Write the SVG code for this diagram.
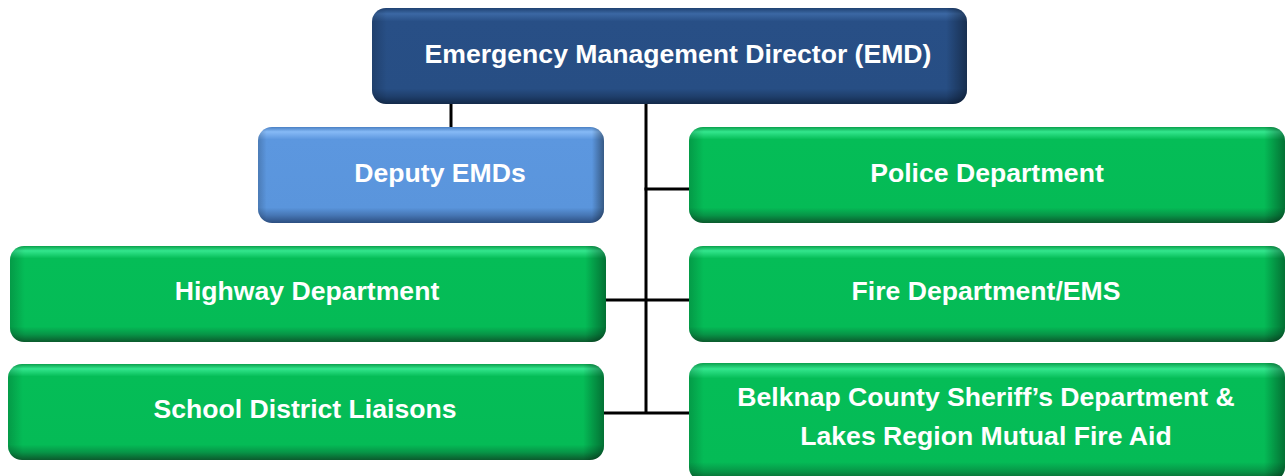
<svg xmlns="http://www.w3.org/2000/svg" width="1287" height="476" viewBox="0 0 1287 476">
<defs>
<linearGradient id="gGreen" x1="0" y1="0" x2="0" y2="1">
<stop offset="0" stop-color="#0AA04C"/>
<stop offset="0.05" stop-color="#33E68D"/>
<stop offset="0.13" stop-color="#05BD57"/>
<stop offset="0.84" stop-color="#05BB56"/>
<stop offset="0.92" stop-color="#079547"/>
<stop offset="1" stop-color="#0B5A2D"/>
</linearGradient>
<linearGradient id="gNavy" x1="0" y1="0" x2="0" y2="1">
<stop offset="0" stop-color="#1F4171"/>
<stop offset="0.06" stop-color="#3B68A4"/>
<stop offset="0.14" stop-color="#284F86"/>
<stop offset="0.84" stop-color="#274E84"/>
<stop offset="0.92" stop-color="#1F3F6C"/>
<stop offset="1" stop-color="#132A4A"/>
</linearGradient>
<linearGradient id="gBlue" x1="0" y1="0" x2="0" y2="1">
<stop offset="0" stop-color="#4A80C4"/>
<stop offset="0.05" stop-color="#86BAF6"/>
<stop offset="0.13" stop-color="#5C97DF"/>
<stop offset="0.84" stop-color="#5A95DC"/>
<stop offset="0.92" stop-color="#4676B4"/>
<stop offset="1" stop-color="#2C4E80"/>
</linearGradient>
<linearGradient id="gSide" x1="0" y1="0" x2="1" y2="0">
<stop offset="0" stop-color="#000" stop-opacity="0.18"/>
<stop offset="0.025" stop-color="#000" stop-opacity="0"/>
<stop offset="0.965" stop-color="#000" stop-opacity="0"/>
<stop offset="1" stop-color="#000" stop-opacity="0.4"/>
</linearGradient>
</defs>
<style>
.lbl{font-family:"Liberation Sans",Arial,sans-serif;font-weight:bold;font-size:26.6px;fill:#fff;text-anchor:middle}
.conn{stroke:#000;stroke-width:3;fill:none}
.side{fill:url(#gSide)}
.green{fill:url(#gGreen)}
</style>
<g id="connectors">
<line class="conn" x1="451" y1="100" x2="451" y2="130"/>
<line class="conn" x1="646" y1="100" x2="646" y2="414"/>
<line class="conn" x1="644.5" y1="189" x2="692" y2="189"/>
<line class="conn" x1="603" y1="300" x2="692" y2="300"/>
<line class="conn" x1="601" y1="413" x2="692" y2="413"/>
</g>
<g id="emd">
<rect x="372" y="8" width="595" height="96" rx="14" fill="url(#gNavy)"/>
<rect x="372" y="8" width="595" height="96" rx="14" class="side"/>
<text class="lbl" x="678" y="63">Emergency Management Director (EMD)</text>
</g>
<g id="deputy">
<rect x="258" y="127" width="346" height="96" rx="14" fill="url(#gBlue)"/>
<rect x="258" y="127" width="346" height="96" rx="14" class="side"/>
<text class="lbl" x="440" y="182">Deputy EMDs</text>
</g>
<g id="police">
<rect x="689" y="127" width="596" height="96" rx="14" class="green"/>
<rect x="689" y="127" width="596" height="96" rx="14" class="side"/>
<text class="lbl" x="987" y="182">Police Department</text>
</g>
<g id="highway">
<rect x="10" y="246" width="596" height="96" rx="14" class="green"/>
<rect x="10" y="246" width="596" height="96" rx="14" class="side"/>
<text class="lbl" x="307" y="300">Highway Department</text>
</g>
<g id="fire">
<rect x="689" y="246" width="596" height="96" rx="14" class="green"/>
<rect x="689" y="246" width="596" height="96" rx="14" class="side"/>
<text class="lbl" x="986" y="300">Fire Department/EMS</text>
</g>
<g id="school">
<rect x="8" y="364" width="596" height="96" rx="14" class="green"/>
<rect x="8" y="364" width="596" height="96" rx="14" class="side"/>
<text class="lbl" x="305" y="418">School District Liaisons</text>
</g>
<g id="belknap">
<rect x="689" y="363" width="596" height="118" rx="14" class="green"/>
<rect x="689" y="363" width="596" height="118" rx="14" class="side"/>
<text class="lbl" x="986" y="406">Belknap County Sheriff’s Department &amp;</text>
<text class="lbl" x="986" y="445">Lakes Region Mutual Fire Aid</text>
</g>
</svg>
